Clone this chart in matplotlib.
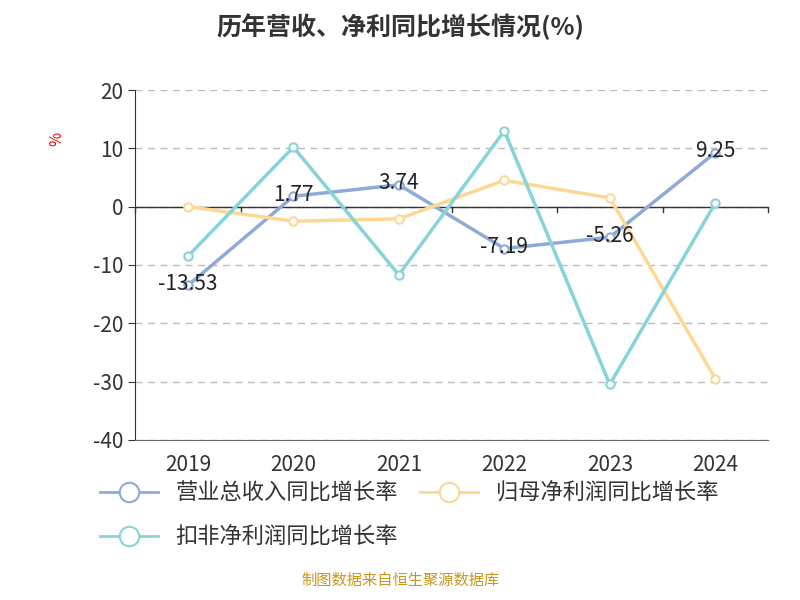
import matplotlib
matplotlib.use("Agg")
import matplotlib.pyplot as plt
from matplotlib.lines import Line2D
from matplotlib.ticker import FuncFormatter

plt.rcParams['font.family'] = ['Noto Sans CJK SC', 'DejaVu Sans']
plt.rcParams['axes.unicode_minus'] = False

years = ["2019", "2020", "2021", "2022", "2023", "2024"]
revenue = [-13.53, 1.77, 3.74, -7.19, -5.26, 9.25]
net_profit = [0.0, -2.5, -2.1, 4.5, 1.5, -29.5]
deducted = [-8.5, 10.2, -11.7, 13.0, -30.5, 0.6]
names = ["营业总收入同比增长率", "归母净利润同比增长率", "扣非净利润同比增长率"]
colors = ["#8eaad9", "#fdd894", "#86d4d8"]

fig = plt.figure(figsize=(8, 6), dpi=100)
ax = fig.add_axes([0.169, 0.267, 0.791, 0.583])
x = list(range(len(years)))
for vals, c in zip([revenue, net_profit, deducted], colors):
    ax.plot(x, vals, color=c, lw=2.5, marker='o', ms=6, mfc='white', mec=c, mew=1.5, zorder=3)
for xi, v in zip(x, revenue):
    ax.text(xi, v + 0.3, f"{v:.2f}", ha='center', va='center',
            fontsize=15, color='#222222', zorder=4)

ax.set_xlim(-0.5, 5.5)
ax.set_ylim(-40, 20)
ax.set_yticks(range(-40, 21, 10))
ax.yaxis.set_major_formatter(FuncFormatter(lambda v, p: f"{int(v)}"))
ax.set_xticks(x)
ax.set_xticklabels(years)
ax.tick_params(labelsize=15, colors='#333333', length=5)
ax.tick_params(axis='x', length=0, pad=10)
ax.grid(axis='y', ls=(0, (5, 4)), color='#bbbbbb', lw=1)
ax.axhline(0, color='#333333', lw=1, zorder=2)
for xb in [i - 0.5 for i in range(7)]:
    ax.plot([xb, xb], [0, -1], color='#333333', lw=1, clip_on=False)
for s in ['top', 'right']:
    ax.spines[s].set_visible(False)
ax.spines['bottom'].set_color('#666666')
ax.spines['left'].set_color('#333333')
ax.set_ylabel('%', color='red', fontsize=11, rotation=90)
ax.yaxis.set_label_coords(-0.11, 0.86)

fig.text(0.5, 0.955, "历年营收、净利同比增长情况(%)", ha='center', va='center',
         fontsize=18, fontweight='bold', color='#333333')

handles = [Line2D([0], [0], color=c, lw=2, marker='o', ms=14, mfc='white', mec=c, mew=1.5) for c in colors]
fig.legend(handles[:2], names[:2], loc='center left', bbox_to_anchor=(0.1, 0.178), ncol=2,
           frameon=False, fontsize=16, handlelength=2.6, columnspacing=1.0, labelcolor='#333333')
fig.legend(handles[2:], names[2:], loc='center left', bbox_to_anchor=(0.1, 0.105),
           frameon=False, fontsize=16, handlelength=2.6, labelcolor='#333333')

fig.text(0.5, 0.018, "制图数据来自恒生聚源数据库", ha='center', va='bottom', fontsize=11, color='#c8961e')
fig.savefig("out.png")
